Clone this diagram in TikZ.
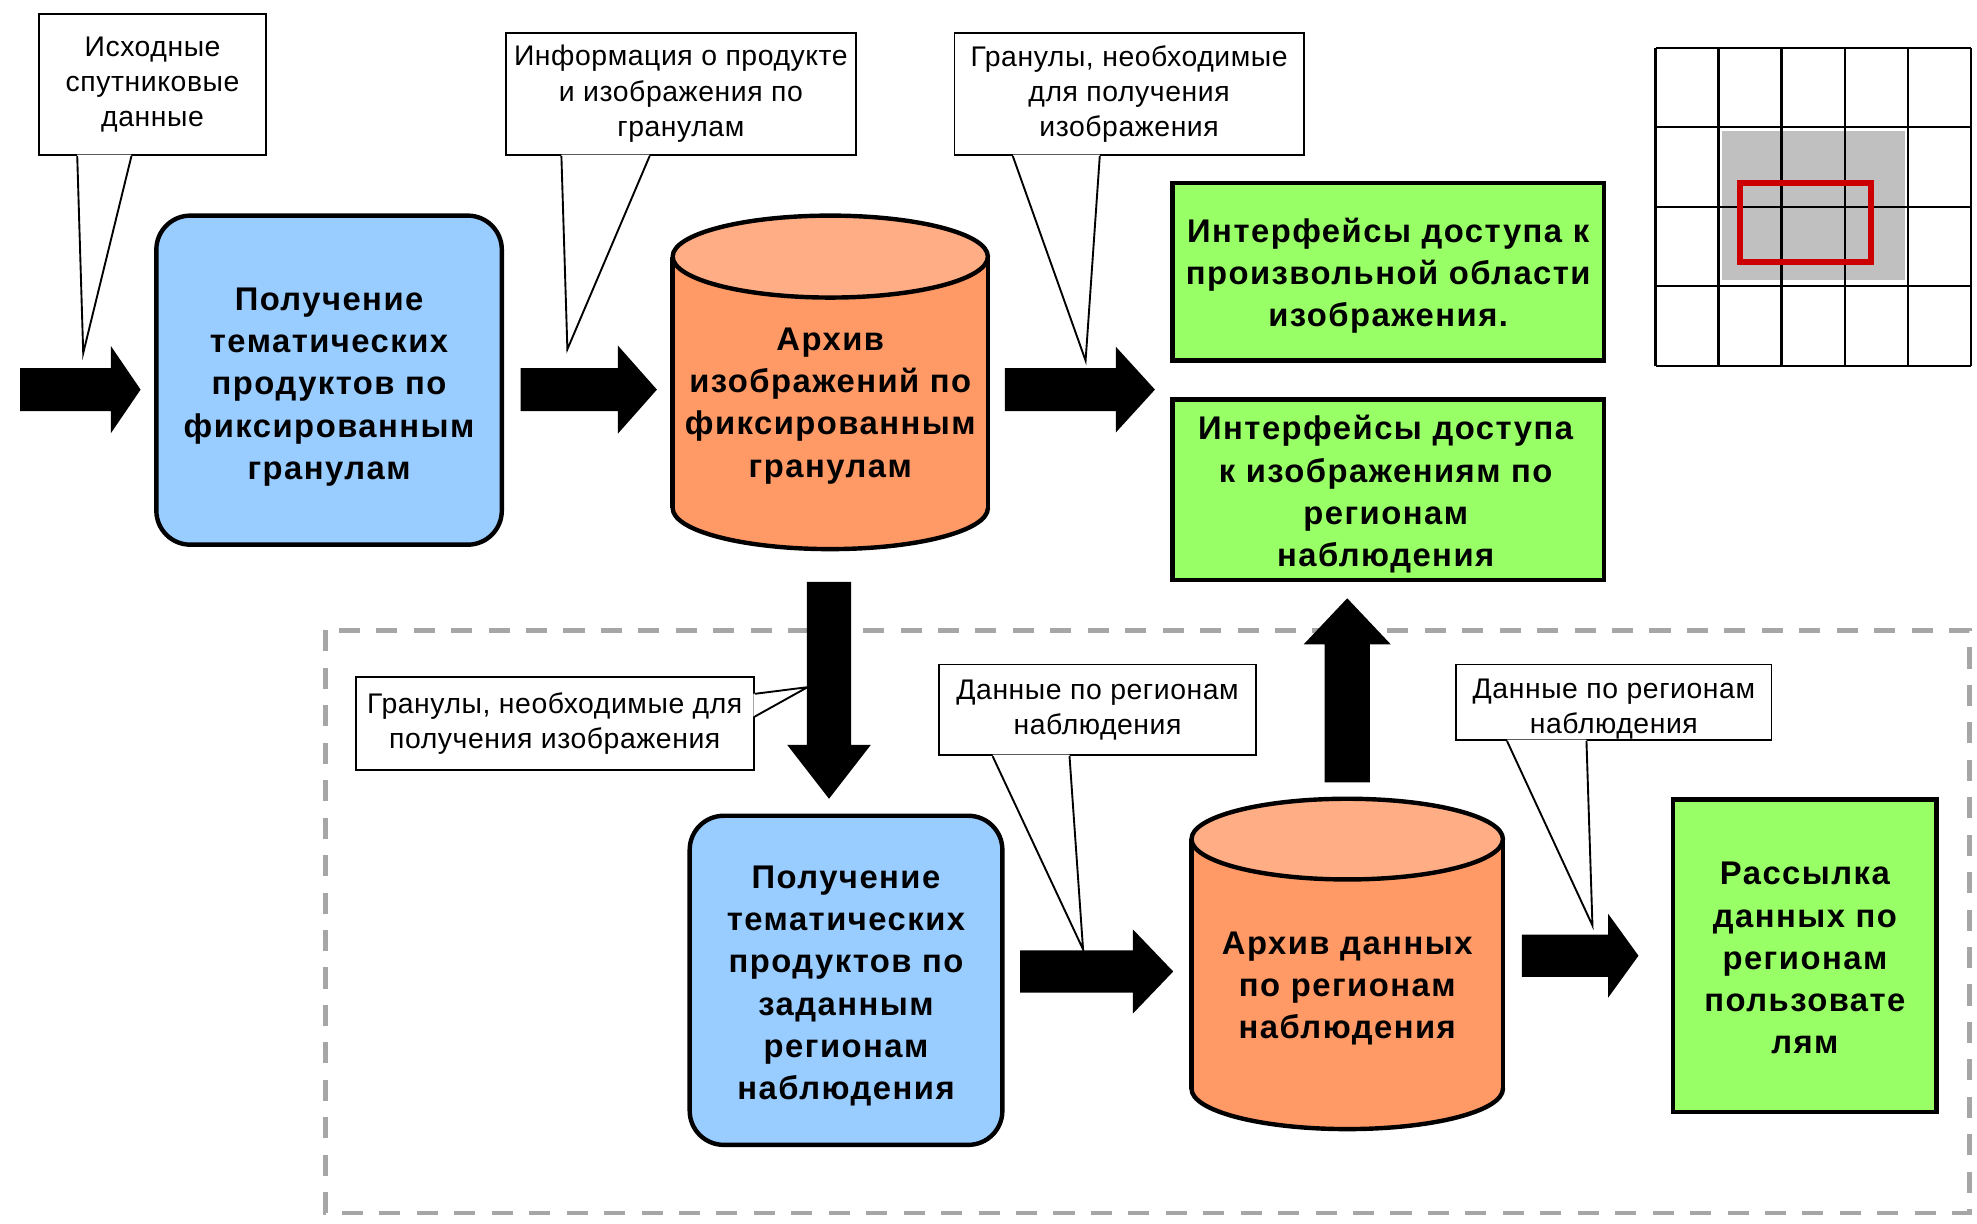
\documentclass[tikz,border=0pt]{standalone}
\usepackage{fontspec}
\setmainfont{Liberation Sans}
\newfontfamily\boldsp[LetterSpace=4.5]{Liberation Sans}
\newfontfamily\calfont[LetterSpace=2]{Liberation Sans}
\usetikzlibrary{calc}
\definecolor{boxblue}{HTML}{99CCFF}
\definecolor{cylbody}{HTML}{FF9966}
\definecolor{cyltop}{HTML}{FFAD85}
\definecolor{boxgreen}{HTML}{99FF66}
\definecolor{gridgray}{HTML}{C0C0C0}
\definecolor{selred}{HTML}{CC0000}
\definecolor{dashgray}{HTML}{A6A6A6}

% block arrow: from, to, shaft half width, head half width, head length
\newcommand\blockarrow[5]{%
  \coordinate (bahead) at ($(#2)!#5pt!(#1)$);
  \fill[black] ($(#1)!#3pt!90:(#2)$) -- ($(bahead)!#3pt!-90:(#1)$) -- ($(bahead)!#4pt!-90:(#1)$) -- (#2)
    -- ($(bahead)!#4pt!90:(#1)$) -- ($(bahead)!#3pt!90:(#1)$) -- ($(#1)!#3pt!-90:(#2)$) -- cycle;}

% cylinder: cx, rx, top cy, bottom cy, ry
\newcommand\drawcyl[5]{%
  \fill[cylbody] (#1-#2,#3) rectangle (#1+#2,#4);
  \fill[cylbody] (#1,#4) ellipse [x radius=#2pt, y radius=#5pt];
  \begin{scope}
    \clip (#1-#2-5,#4) rectangle (#1+#2+5,#4+#5+5);
    \draw[cylline] (#1,#4) ellipse [x radius=#2pt, y radius=#5pt];
  \end{scope}
  \draw[cylline] (#1-#2,#3) -- (#1-#2,#4) (#1+#2,#3) -- (#1+#2,#4);
  \filldraw[cylline, fill=cyltop] (#1,#3) ellipse [x radius=#2pt, y radius=#5pt];}

% callout pointer from bottom edge: node, xshift1, xshift2, tip
\newcommand\botptr[4]{%
  \fill[white] ([xshift=#2pt,yshift=1.2pt]#1.south west) -- (#4) -- ([xshift=#3pt,yshift=1.2pt]#1.south west) -- cycle;
  \draw[calline] ([xshift=#2pt]#1.south west) -- (#4) -- ([xshift=#3pt]#1.south west);}

\begin{document}
\begin{tikzpicture}[x=1pt,y=-1pt,
  cylline/.style={draw=black, line width=3.5pt, line join=round},
  calline/.style={draw=black, line width=1.5pt, line join=miter},
  callout/.style={draw=black, line width=1.5pt, fill=white, rectangle, inner sep=0pt, align=center,
    font=\calfont\fontsize{22.5}{28}\selectfont},
  caltext/.style={inner sep=0pt, align=center, font=\calfont\fontsize{22.5}{28}\selectfont},
  procbox/.style={draw=black, line width=3.5pt, fill=boxblue, rounded corners=27pt, inner sep=0pt},
  outbox/.style={draw=black, line width=3.5pt, fill=boxgreen, inner sep=0pt},
  boldtext/.style={inner sep=0pt, align=center, font=\boldsp\bfseries\fontsize{26}{33.5}\selectfont},
  ]
\fill[white] (0,0) rectangle (1568,970);
\useasboundingbox (0,0) rectangle (1568,970);

% dashed frame
\draw[dashgray, line width=3.6pt, dash pattern=on 16.7pt off 13pt] (258,500) rectangle (1562,962);

% cylinders
\drawcyl{658.5}{125}{203.5}{403}{32.5}
\drawcyl{1068.5}{123.5}{665.5}{863.5}{32}

% main nodes
\node[procbox, minimum width=274pt, minimum height=261pt] (b1) at (261,301.5) {};
\node[boldtext] (b1t) at (261,307)
  {Получение\\тематических\\продуктов по\\фиксированным\\гранулам};
\node[boldtext] (cyl1) at (658.5,322) {Архив\\изображений по\\фиксированным\\гранулам};
\node[outbox, minimum width=342pt, minimum height=141pt] (g1) at (1101,215.5) {};
\node[boldtext] (g1t) at (1101,218.5)
  {Интерфейсы доступа к\\произвольной области\\изображения.};
\node[outbox, minimum width=342pt, minimum height=143pt] (g2) at (1101,388.5) {};
\node[boldtext] (g2t) at (1099,392)
  {Интерфейсы доступа\\к изображениям по\\регионам\\наблюдения};
\node[procbox, minimum width=248pt, minimum height=261pt] (b2) at (671,777.5) {};
\node[boldtext] (b2t) at (671,782)
  {Получение\\тематических\\продуктов по\\заданным\\регионам\\наблюдения};
\node[boldtext] (cyl2) at (1068.5,784) {Архив данных\\по регионам\\наблюдения};
\node[outbox, minimum width=209pt, minimum height=248pt] (g3) at (1431.5,758) {};
\node[boldtext] (g3t) at (1431.5,760)
  {Рассылка\\данных по\\регионам\\пользовате\\лям};

% grid picture
\fill[gridgray] (1366,104) rectangle (1511,222);
\foreach \gx in {1313,1363,1413,1463,1513,1563} \draw[line width=1.8pt] (\gx,38) -- (\gx,290);
\foreach \gy in {38,101,164,227,290} \draw[line width=1.8pt] (1313,\gy) -- (1563,\gy);
\draw[selred, line width=4.5pt] (1380,145) rectangle (1484,208);

% block arrows
\coordinate (a1s) at (16,309);     \coordinate (a1e) at (111.5,309);
\coordinate (a2s) at (413,309);    \coordinate (a2e) at (521,309);
\coordinate (a3s) at (797,309);    \coordinate (a3e) at (916,309);
\coordinate (a4s) at (657.5,461.5); \coordinate (a4e) at (657.5,633.5);
\coordinate (a5s) at (1068.5,620.5); \coordinate (a5e) at (1068.5,474.5);
\coordinate (a6s) at (809,770.5);  \coordinate (a6e) at (930.5,770.5);
\coordinate (a7s) at (1207,758);   \coordinate (a7e) at (1299.5,758);
\blockarrow{a1s}{a1e}{17}{34.5}{23.5}
\blockarrow{a2s}{a2e}{17}{35}{31}
\blockarrow{a3s}{a3e}{17}{34}{31}
\blockarrow{a4s}{a4e}{17.6}{33.2}{42.8}
\blockarrow{a5s}{a5e}{18}{34.5}{36.5}
\blockarrow{a6s}{a6e}{16.7}{33.4}{32}
\blockarrow{a7s}{a7e}{16.7}{33.2}{24}

% callouts
\coordinate (t1) at (66,280);
\coordinate (t2) at (450,277);
\coordinate (t3) at (861,286);
\coordinate (t4) at (640.5,545);
\coordinate (t5) at (859,753);
\coordinate (t6) at (1263,734);

\node[callout, minimum width=180pt, minimum height=112pt] (c1) at (121,67)
  {Исходные\\спутниковые\\данные};
\botptr{c1}{31}{74}{t1}
\node[callout, minimum width=278pt, minimum height=97pt] (c2) at (540,74.5)
  {Информация о продукте\\и изображения по\\гранулам};
\botptr{c2}{45}{115}{t2}
\node[callout, minimum width=277pt, minimum height=97pt] (c3) at (895.5,74.5)
  {Гранулы, необходимые\\для получения\\изображения};
\botptr{c3}{47}{116}{t3}
\node[callout, minimum width=316pt, minimum height=74pt] (c4) at (440,574)
  {Гранулы, необходимые для\\получения изображения};
\fill[white] ([yshift=-14pt,xshift=-1.2pt]c4.north east) -- (t4) -- ([yshift=-32pt,xshift=-1.2pt]c4.north east) -- cycle;
\draw[calline] ([yshift=-14pt]c4.north east) -- (t4) -- ([yshift=-32pt]c4.north east);
\node[callout, minimum width=251pt, minimum height=72pt] (c5) at (870.5,563)
  {Данные по регионам\\наблюдения};
\botptr{c5}{43}{104}{t5}
\node[callout, minimum width=250pt, minimum height=60pt] (c6) at (1280,557) {};
\botptr{c6}{41}{104}{t6}
\node[caltext] (c6t) at (1280,562.5) {Данные по регионам\\наблюдения};
\end{tikzpicture}
\end{document}
